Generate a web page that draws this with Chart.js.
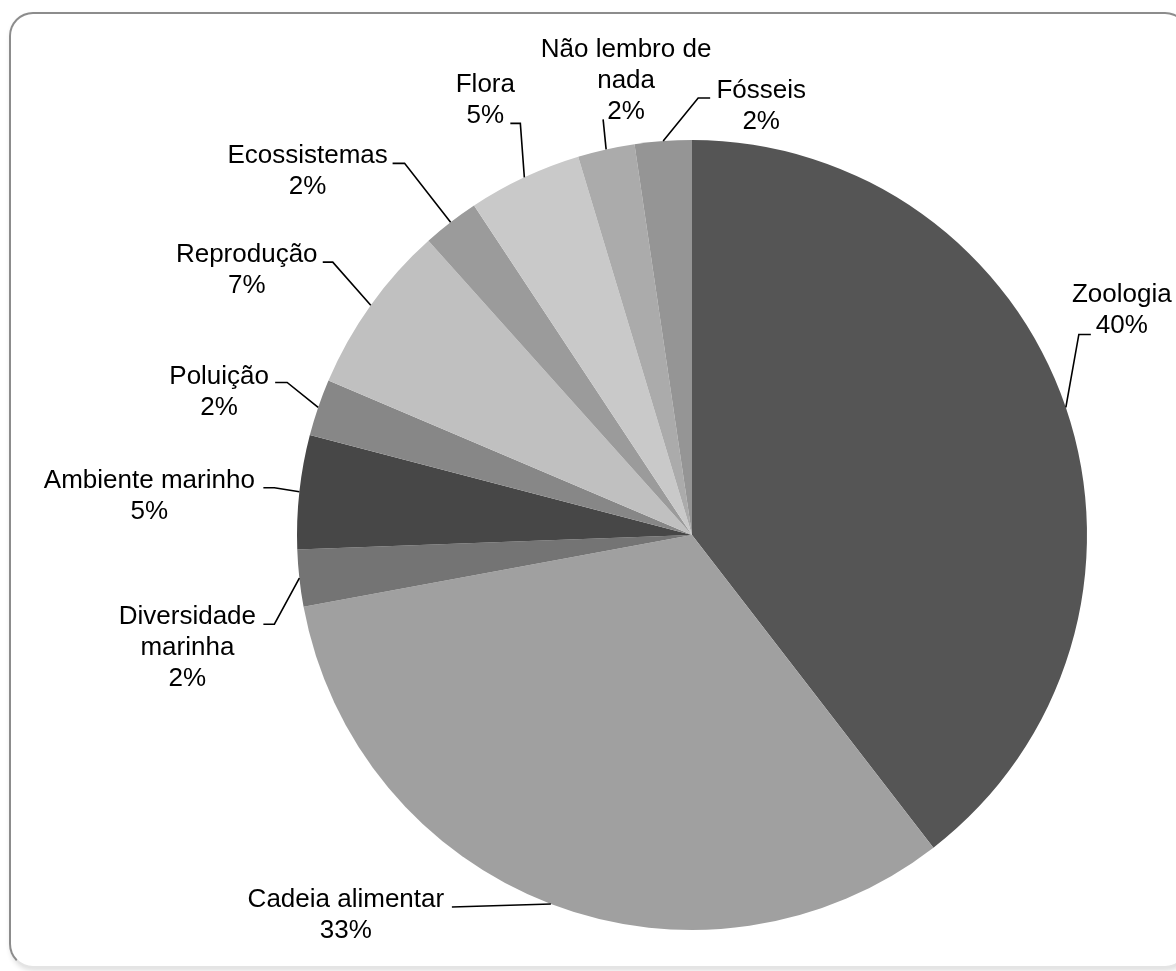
<!DOCTYPE html>
<html>
<head>
<meta charset="utf-8">
<script src="https://cdn.jsdelivr.net/npm/chart.js@4/dist/chart.umd.min.js"></script>
<style>
  html, body { margin: 0; padding: 0; background: #ffffff; overflow: hidden; }
  #wrap { position: relative; width: 1176px; height: 971px; }
  #frame {
    position: absolute; left: 9px; top: 12px; width: 1176px; height: 952px;
    border: 2px solid #8c8c8c; border-bottom-color: #e4e4e4; border-radius: 24px;
    box-shadow: 1px 3px 5px rgba(0,0,0,0.12);
    background: #ffffff;
  }
  canvas { position: absolute; left: 0; top: 0; }
</style>
</head>
<body>
<div id="wrap">
  <div id="frame"></div>
  <canvas id="c" width="1176" height="971"></canvas>
</div>
<script>
// ---- data ----
const categories = ["Zoologia", "Cadeia alimentar", "Diversidade marinha", "Ambiente marinho", "Poluição",
                    "Reprodução", "Ecossistemas", "Flora", "Não lembro de nada", "Fósseis"];
const counts = [17, 14, 1, 2, 1, 3, 1, 2, 1, 1];
// label lines as shown in the chart (category text wrapped)
const labelLines = [
  ["Zoologia"], ["Cadeia alimentar"], ["Diversidade", "marinha"], ["Ambiente marinho"], ["Poluição"],
  ["Reprodução"], ["Ecossistemas"], ["Flora"], ["Não lembro de", "nada"], ["Fósseis"]
];
const sliceColors = ["#555555", "#a0a0a0", "#747474", "#474747", "#878787",
                     "#c0c0c0", "#9b9b9b", "#c9c9c9", "#ababab", "#959595"];

// ---- label layout (offsets relative to each slice's outer mid point) ----
const labelLayout = [
  { text: [56, -105],  elbow: [13, -73],   attach: [25, -73] },
  { text: [-205, 3],   elbow: [-99, 3],    attach: [-99, 3] },
  { text: [-112, 46],  elbow: [-25, 46],   attach: [-36, 46] },
  { text: [-150, -4],  elbow: [-25, -4],   attach: [-36, -4] },
  { text: [-99, -23],  elbow: [-31, -25],  attach: [-43, -25] },
  { text: [-124, -43], elbow: [-38, -43],  attach: [-48, -43] },
  { text: [-143, -59], elbow: [-46, -59],  attach: [-58, -59] },
  { text: [-39, -85],  elbow: [-4, -54],   attach: [-14, -54] },
  { text: [20, -92],   elbow: [-3, -30],   attach: [-3, -30] },
  { text: [98, -43],   elbow: [35, -43],   attach: [47, -43] }
];

const total = counts.reduce((a, b) => a + b, 0);

const labelPlugin = {
  id: 'pieLabels',
  afterDraw(chart) {
    const ctx = chart.ctx;
    const meta = chart.getDatasetMeta(0);
    ctx.save();
    ctx.font = '26px "Liberation Sans", Arial, sans-serif';
    ctx.textAlign = 'center';
    ctx.textBaseline = 'alphabetic';
    meta.data.forEach((arc, i) => {
      const p = arc.getProps(['x', 'y', 'startAngle', 'endAngle', 'outerRadius'], true);
      const mid = (p.startAngle + p.endAngle) / 2;
      const ax = p.x + Math.cos(mid) * p.outerRadius;
      const ay = p.y + Math.sin(mid) * p.outerRadius;
      const L = labelLayout[i];
      // leader line
      ctx.strokeStyle = '#000000';
      ctx.lineWidth = 1.6;
      ctx.beginPath();
      ctx.moveTo(ax, ay);
      ctx.lineTo(ax + L.elbow[0], ay + L.elbow[1]);
      ctx.lineTo(ax + L.attach[0], ay + L.attach[1]);
      ctx.stroke();
      // text
      const pct = Math.round(counts[i] / total * 100) + '%';
      const lines = labelLines[i].concat([pct]);
      ctx.fillStyle = '#000000';
      lines.forEach((t, k) => {
        ctx.fillText(t, ax + L.text[0], ay + L.text[1] + k * 31);
      });
    });
    ctx.restore();
  }
};

new Chart(document.getElementById('c'), {
  type: 'pie',
  data: {
    labels: categories,
    datasets: [{
      data: counts,
      backgroundColor: sliceColors,
      borderWidth: 0
    }]
  },
  options: {
    responsive: false,
    animation: false,
    layout: { padding: { left: 297, right: 89, top: 140, bottom: 41 } },
    plugins: {
      legend: { display: false },
      tooltip: { enabled: false }
    }
  },
  plugins: [labelPlugin]
});
</script>
</body>
</html>
